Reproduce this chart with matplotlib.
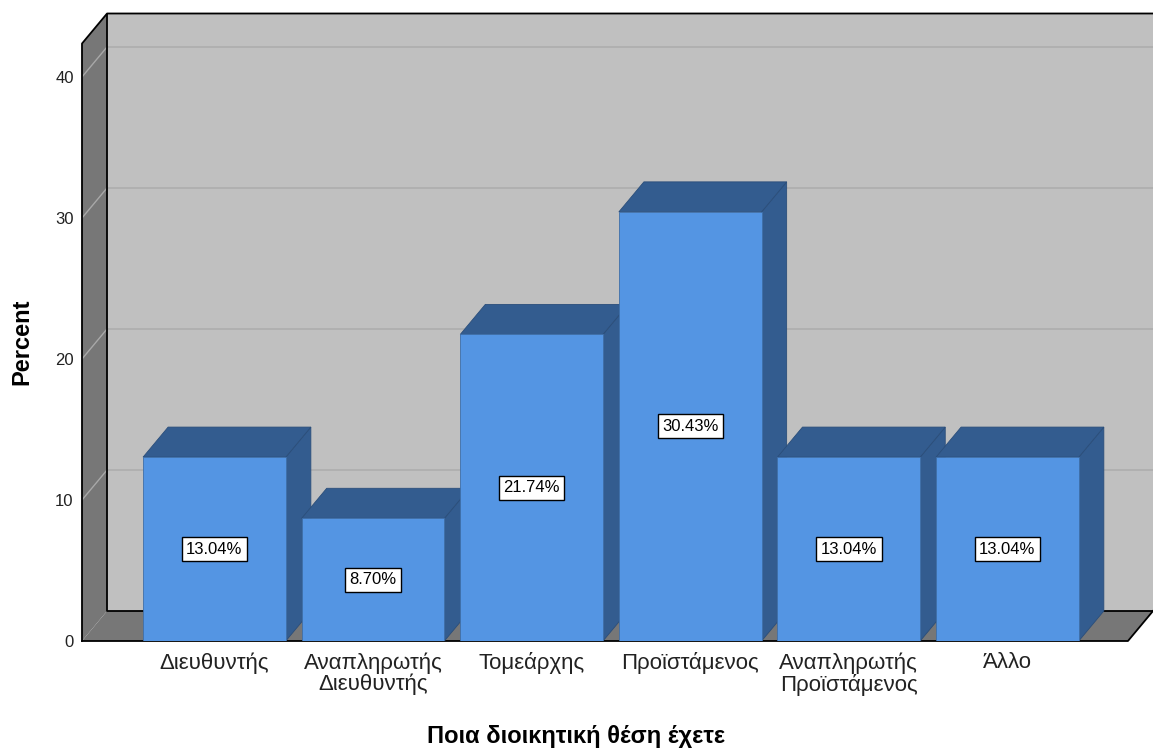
import matplotlib.pyplot as plt
from matplotlib.patches import Polygon

plt.rcParams['font.family'] = ['Liberation Sans', 'DejaVu Sans']

# Δεδομένα
categories = ['Διευθυντής', 'Αναπληρωτής\nΔιευθυντής', 'Τομεάρχης',
              'Προϊστάμενος', 'Αναπληρωτής\nΠροϊστάμενος', 'Άλλο']
percents = [13.04, 8.70, 21.74, 30.43, 13.04, 13.04]
y_ticks = [0, 10, 20, 30, 40]

# Εμφάνιση
FRONT = '#5495E3'
SIDE = '#335C8F'
WALL = '#C0C0C0'
WALL_DARK = '#777777'
BAR_W = 0.90
DX, DY = 0.158, 2.13          # βάθος τρισδιάστατου εφέ (σε μονάδες δεδομένων)
X0, X1 = -0.835, 5.76         # μπροστινό επίπεδο
Y_TOP = 44.5 - DY             # πάνω όριο πίσω τοίχου

fig = plt.figure(figsize=(11.53, 7.49), dpi=100)
ax = fig.add_axes([82 / 1153, 108 / 749, (1153 - 82) / 1153, 627.5 / 749])
ax.set_xlim(X0, X1 + DX)
ax.set_ylim(0, Y_TOP + DY)

# πίσω τοίχος
ax.add_patch(Polygon([(X0 + DX, DY), (X1 + DX, DY), (X1 + DX, Y_TOP + DY),
                      (X0 + DX, Y_TOP + DY)], closed=True, fc=WALL, ec='none', zorder=1))
# αριστερός τοίχος
ax.add_patch(Polygon([(X0, 0), (X0 + DX, DY), (X0 + DX, Y_TOP + DY), (X0, Y_TOP)],
                     closed=True, fc=WALL_DARK, ec='none', zorder=1))
# δάπεδο
ax.add_patch(Polygon([(X0, 0), (X1, 0), (X1 + DX, DY), (X0 + DX, DY)],
                     closed=True, fc=WALL_DARK, ec='none', zorder=1))

# γραμμές πλέγματος
for t in y_ticks[1:]:
    ax.plot([X0 + DX, X1 + DX], [t + DY, t + DY], color='#ADADAD', lw=1.2, zorder=2)
    ax.plot([X0, X0 + DX], [t, t + DY], color='#A8A8A8', lw=1.0, zorder=2)

# περιγράμματα τοίχων
ax.plot([X0, X0, X0 + DX, X1 + DX], [0, Y_TOP, Y_TOP + DY, Y_TOP + DY],
        color='black', lw=1.3, zorder=2, clip_on=False)
ax.plot([X0 + DX, X0 + DX, X1 + DX], [Y_TOP + DY, DY, DY], color='black', lw=1.3, zorder=2)
ax.plot([X0, X1, X1 + DX], [0, 0, DY], color='black', lw=1.3, zorder=2, clip_on=False)

# μπάρες
for i, v in enumerate(percents):
    l, r = i - BAR_W / 2, i + BAR_W / 2
    z = 3 + i
    ax.add_patch(Polygon([(r, 0), (r + DX, DY), (r + DX, v + DY), (r, v)],
                         closed=True, fc=SIDE, ec='#2B4E7A', lw=0.6, zorder=z))
    ax.add_patch(Polygon([(l, v), (r, v), (r + DX, v + DY), (l + DX, v + DY)],
                         closed=True, fc=SIDE, ec='#2B4E7A', lw=0.6, zorder=z))
    ax.add_patch(Polygon([(l, 0), (r, 0), (r, v), (l, v)],
                         closed=True, fc=FRONT, ec='#3F6FA8', lw=0.6, zorder=z))

for i, v in enumerate(percents):
    ax.text(i, v / 2, f'{v:.2f}%', ha='center', va='center', fontsize=12, zorder=20,
            bbox=dict(boxstyle='square,pad=0.27', fc='white', ec='black', lw=1.0))

for s in ax.spines.values():
    s.set_visible(False)
ax.set_yticks(y_ticks)
ax.set_yticklabels([str(t) for t in y_ticks], fontsize=12, color='#222222')
ax.set_xticks(range(len(categories)))
ax.set_xticklabels(categories, fontsize=16, linespacing=1.0, color='#222222')
ax.tick_params(axis='y', length=0, pad=6)
ax.tick_params(axis='x', length=0, pad=8)

fig.text(22 / 1153, 1 - 342 / 749, 'Percent', rotation=90, ha='center', va='center',
         fontsize=17, fontweight='bold')
fig.text(576 / 1153, 1 - 743 / 749, 'Ποια διοικητική θέση έχετε',
         ha='center', va='baseline', fontsize=17, fontweight='bold')

fig.savefig('out.png', dpi=100)
